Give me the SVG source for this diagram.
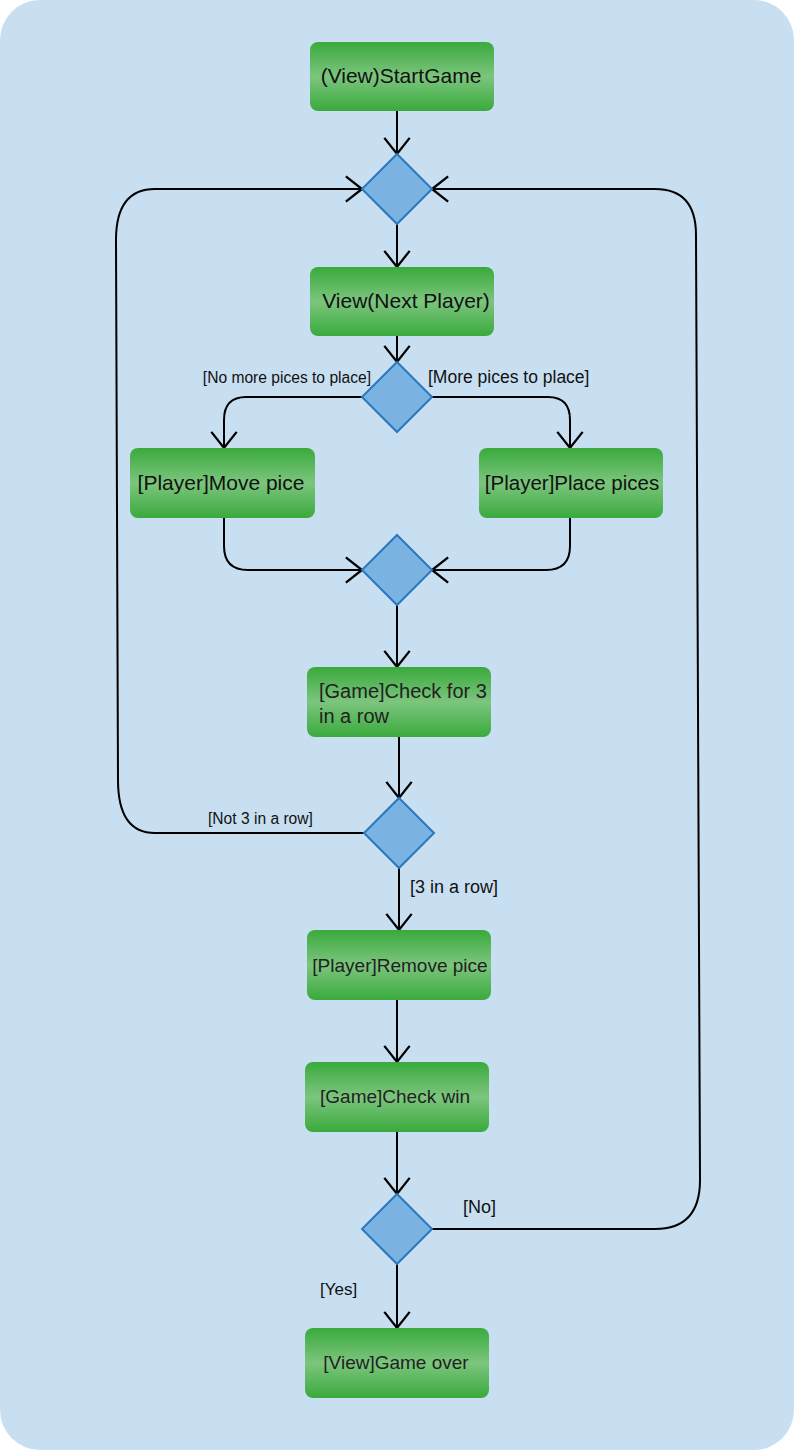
<svg xmlns="http://www.w3.org/2000/svg" width="794" height="1450" viewBox="0 0 794 1450">
<defs>
<linearGradient id="g" x1="0" y1="0" x2="0" y2="1">
<stop offset="0" stop-color="#3aaa3c"/>
<stop offset="0.5" stop-color="#7cc57e"/>
<stop offset="1" stop-color="#3aaa3c"/>
</linearGradient>
<marker id="a" markerUnits="userSpaceOnUse" markerWidth="30" markerHeight="30" viewBox="-16 -13 18 26" refX="0" refY="0" orient="auto">
<path d="M-14,-11 L0,0 L-14,11" fill="none" stroke="#000" stroke-width="2"/>
</marker>
</defs>
<style>
.n{fill:url(#g);}
.d{fill:#7ab3e1;stroke:#2a78c0;stroke-width:2;}
.t{font-family:"Liberation Sans",Arial,sans-serif;font-size:21px;fill:#111;text-anchor:middle;}
.s{font-family:"Liberation Sans",Arial,sans-serif;font-size:19px;fill:#222;text-anchor:middle;}
.m{font-family:"Liberation Sans",Arial,sans-serif;font-size:20px;fill:#222;}
.l{font-family:"Liberation Sans",Arial,sans-serif;font-size:15.6px;fill:#111;}
.c{fill:none;stroke:#000;stroke-width:2;}
</style>
<rect x="0" y="0" width="794" height="1450" rx="40" fill="#c8dff2"/>
<g id="connectors">
<path class="c" d="M397,111 L397,154" marker-end="url(#a)"/>
<path class="c" d="M397,224 L397,267" marker-end="url(#a)"/>
<path class="c" d="M397,336 L397,362" marker-end="url(#a)"/>
<path class="c" d="M362,397 L246,397 Q224,397 224,420 L224,448" marker-end="url(#a)"/>
<path class="c" d="M432,397 L548,397 Q570,397 570,420 L570,448" marker-end="url(#a)"/>
<path class="c" d="M224,518 L224,546 Q224,570 248,570 L362,570" marker-end="url(#a)"/>
<path class="c" d="M570,518 L570,546 Q570,570 546,570 L432,570" marker-end="url(#a)"/>
<path class="c" d="M397,605 L397,667" marker-end="url(#a)"/>
<path class="c" d="M399,737 L399,798" marker-end="url(#a)"/>
<path class="c" d="M364,833 L155,833 Q118,833 118,780 L116,240 Q116,189 155,189 L362,189" marker-end="url(#a)"/>
<path class="c" d="M399,868 L399,930" marker-end="url(#a)"/>
<path class="c" d="M397,1000 L397,1062" marker-end="url(#a)"/>
<path class="c" d="M397,1132 L397,1194" marker-end="url(#a)"/>
<path class="c" d="M432,1229 L655,1229 Q700,1229 700,1180 L696,235 Q696,189 655,189 L432,189" marker-end="url(#a)"/>
<path class="c" d="M397,1264 L397,1328" marker-end="url(#a)"/>
<text class="l" x="371" y="383" text-anchor="end" style="text-anchor:end">[No more pices to place]</text>
<text class="l" x="428" y="383" style="font-size:17.5px">[More pices to place]</text>
<text class="l" x="208" y="824">[Not 3 in a row]</text>
<text class="l" x="410" y="893" style="font-size:18px">[3 in a row]</text>
<text class="l" x="463" y="1213" style="font-size:18px">[No]</text>
<text class="l" x="320" y="1295" style="font-size:17px">[Yes]</text>
</g>
<g id="start"><rect class="n" x="310" y="42" width="184" height="69" rx="8"/><text class="t" x="401" y="83">(View)StartGame</text></g>
<g id="merge1"><polygon class="d" points="397,154 432,189 397,224 362,189"/></g>
<g id="nextplayer"><rect class="n" x="310" y="267" width="184" height="69" rx="8"/><text class="t" x="406" y="308">View(Next Player)</text></g>
<g id="decision1"><polygon class="d" points="397,362 432,397 397,432 362,397"/></g>
<g id="movepice"><rect class="n" x="130" y="448" width="185" height="70" rx="8"/><text class="t" x="221" y="490">[Player]Move pice</text></g>
<g id="placepices"><rect class="n" x="479" y="448" width="184" height="70" rx="8"/><text class="t" x="572" y="490" style="font-size:20.5px">[Player]Place pices</text></g>
<g id="merge2"><polygon class="d" points="397,535 432,570 397,605 362,570"/></g>
<g id="check3"><rect class="n" x="307" y="667" width="184" height="70" rx="8"/><text class="m" x="319" y="698">[Game]Check for 3</text><text class="m" x="319" y="723">in a row</text></g>
<g id="decision2"><polygon class="d" points="399,798 434,833 399,868 364,833"/></g>
<g id="remove"><rect class="n" x="307" y="930" width="184" height="70" rx="8"/><text class="s" x="400" y="972">[Player]Remove pice</text></g>
<g id="checkwin"><rect class="n" x="305" y="1062" width="184" height="70" rx="8"/><text class="s" x="395" y="1103">[Game]Check win</text></g>
<g id="decision3"><polygon class="d" points="397,1194 432,1229 397,1264 362,1229"/></g>
<g id="gameover"><rect class="n" x="305" y="1328" width="184" height="70" rx="8"/><text class="s" x="396" y="1369">[View]Game over</text></g>
</svg>
